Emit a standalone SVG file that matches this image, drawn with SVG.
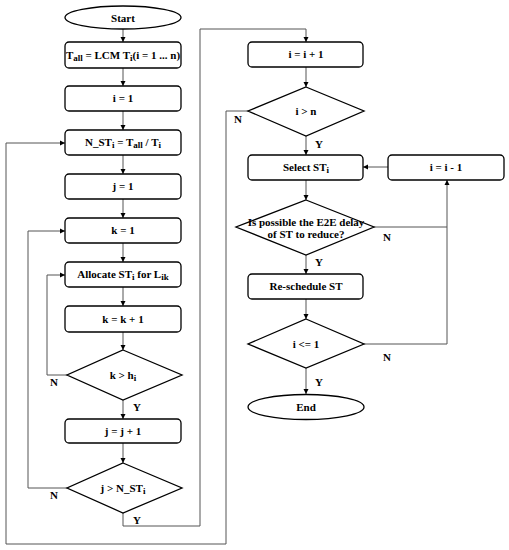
<svg xmlns="http://www.w3.org/2000/svg" width="509" height="550" viewBox="0 0 509 550">
<style>
.n{fill:#fff;stroke:#000;stroke-width:1.3}
.t{font-family:"Liberation Serif","Times New Roman",serif;font-weight:bold;font-size:11px;text-anchor:middle;fill:#000}
.l{font-family:"Liberation Serif","Times New Roman",serif;font-weight:bold;font-size:11px;fill:#000}
.s{font-size:9px}
.c{fill:none;stroke:#555;stroke-width:1}
</style>
<defs>
<marker id="a" markerWidth="6" markerHeight="6" refX="5" refY="3" orient="auto" markerUnits="userSpaceOnUse">
<path d="M0,0.5 L5,3 L0,5.5 z" fill="#000"/>
</marker>
</defs>
<rect width="509" height="550" fill="#fff"/>
<g id="connectors">
<path class="c" d="M123,29 V42" marker-end="url(#a)"/>
<path class="c" d="M123,68 V86" marker-end="url(#a)"/>
<path class="c" d="M123,111 V130" marker-end="url(#a)"/>
<path class="c" d="M123,155 V174" marker-end="url(#a)"/>
<path class="c" d="M123,199 V218" marker-end="url(#a)"/>
<path class="c" d="M123,243 V262" marker-end="url(#a)"/>
<path class="c" d="M123,287 V306" marker-end="url(#a)"/>
<path class="c" d="M123,332 V350" marker-end="url(#a)"/>
<path class="c" d="M123,400 V419" marker-end="url(#a)"/>
<path class="c" d="M123,443 V463" marker-end="url(#a)"/>
<path class="c" d="M67,375 H47 V275 H65" marker-end="url(#a)"/>
<path class="c" d="M67,488 H28 V231 H65" marker-end="url(#a)"/>
<path class="c" d="M123,513 V526 H200 V29 H306 V42" marker-end="url(#a)"/>
<path class="c" d="M248,111 H226 V544 H6 V143 H65" marker-end="url(#a)"/>
<path class="c" d="M306,67 V87" marker-end="url(#a)"/>
<path class="c" d="M306,136 V155" marker-end="url(#a)"/>
<path class="c" d="M388,167 H363" marker-end="url(#a)"/>
<path class="c" d="M306,180 V200" marker-end="url(#a)"/>
<path class="c" d="M374,227 H447 V180" marker-end="url(#a)"/>
<path class="c" d="M306,255 V274" marker-end="url(#a)"/>
<path class="c" d="M306,299 V319" marker-end="url(#a)"/>
<path class="c" d="M364,344 H447 V227"/>
<path class="c" d="M306,368 V394" marker-end="url(#a)"/>
<text class="l" x="50" y="386">N</text>
<text class="l" x="50" y="499">N</text>
<text class="l" x="133" y="411">Y</text>
<text class="l" x="133" y="524">Y</text>
<text class="l" x="234" y="123">N</text>
<text class="l" x="315" y="148">Y</text>
<text class="l" x="383" y="241">N</text>
<text class="l" x="315" y="266">Y</text>
<text class="l" x="383" y="361">N</text>
<text class="l" x="315" y="386">Y</text>
</g>
<g id="start"><ellipse class="n" cx="123" cy="17.5" rx="58" ry="11.5"/><text class="t" x="123" y="21.5">Start</text></g>
<g id="tall"><rect class="n" x="65" y="42" width="116" height="26" rx="4"/><text class="t" x="123" y="59">T<tspan class="s" dy="2">all</tspan><tspan dy="-2"> = LCM T</tspan><tspan class="s" dy="2">i</tspan><tspan dy="-2">(i = 1 ... n)</tspan></text></g>
<g id="i1"><rect class="n" x="65" y="86" width="116" height="25" rx="4"/><text class="t" x="123" y="102">i = 1</text></g>
<g id="nst"><rect class="n" x="65" y="130" width="116" height="25" rx="4"/><text class="t" x="123" y="146">N_ST<tspan class="s" dy="2">i</tspan><tspan dy="-2"> = T</tspan><tspan class="s" dy="2">all</tspan><tspan dy="-2"> / T</tspan><tspan class="s" dy="2">i</tspan></text></g>
<g id="j1"><rect class="n" x="65" y="174" width="116" height="25" rx="4"/><text class="t" x="123" y="190">j = 1</text></g>
<g id="k1"><rect class="n" x="65" y="218" width="116" height="25" rx="4"/><text class="t" x="123" y="234">k = 1</text></g>
<g id="alloc"><rect class="n" x="65" y="262" width="116" height="25" rx="4"/><text class="t" x="123" y="278">Allocate ST<tspan class="s" dy="2">i</tspan><tspan dy="-2"> for L</tspan><tspan class="s" dy="2">ik</tspan></text></g>
<g id="kk1"><rect class="n" x="65" y="306" width="116" height="26" rx="4"/><text class="t" x="123" y="323">k = k + 1</text></g>
<g id="kh"><polygon class="n" points="123,350 182,375 123,400 67,375"/><text class="t" x="123" y="379">k &gt; h<tspan class="s" dy="2">i</tspan></text></g>
<g id="jj1"><rect class="n" x="65" y="419" width="116" height="24" rx="4"/><text class="t" x="123" y="435">j = j + 1</text></g>
<g id="jn"><polygon class="n" points="123,463 182,488 123,513 67,488"/><text class="t" x="123" y="492">j &gt; N_ST<tspan class="s" dy="2">i</tspan></text></g>
<g id="ii1"><rect class="n" x="248" y="42" width="115" height="25" rx="4"/><text class="t" x="306" y="58">i = i + 1</text></g>
<g id="in"><polygon class="n" points="306,87 364,111 306,136 248,111"/><text class="t" x="306" y="115">i &gt; n</text></g>
<g id="select"><rect class="n" x="248" y="155" width="115" height="25" rx="4"/><text class="t" x="306" y="171">Select ST<tspan class="s" dy="2">i</tspan></text></g>
<g id="im1"><rect class="n" x="388" y="155" width="116" height="25" rx="4"/><text class="t" x="446" y="171">i = i - 1</text></g>
<g id="e2e"><polygon class="n" points="306,200 374,227 306,255 236,227"/><text class="t" x="306" y="226">Is possible the E2E delay</text><text class="t" x="306" y="238">of ST to reduce?</text></g>
<g id="resched"><rect class="n" x="248" y="274" width="115" height="25" rx="4"/><text class="t" x="306" y="290">Re-schedule ST</text></g>
<g id="ile1"><polygon class="n" points="306,319 364,344 306,368 248,344"/><text class="t" x="306" y="348">i &lt;= 1</text></g>
<g id="end"><ellipse class="n" cx="306" cy="407" rx="58" ry="12.5"/><text class="t" x="306" y="411">End</text></g>
</svg>
